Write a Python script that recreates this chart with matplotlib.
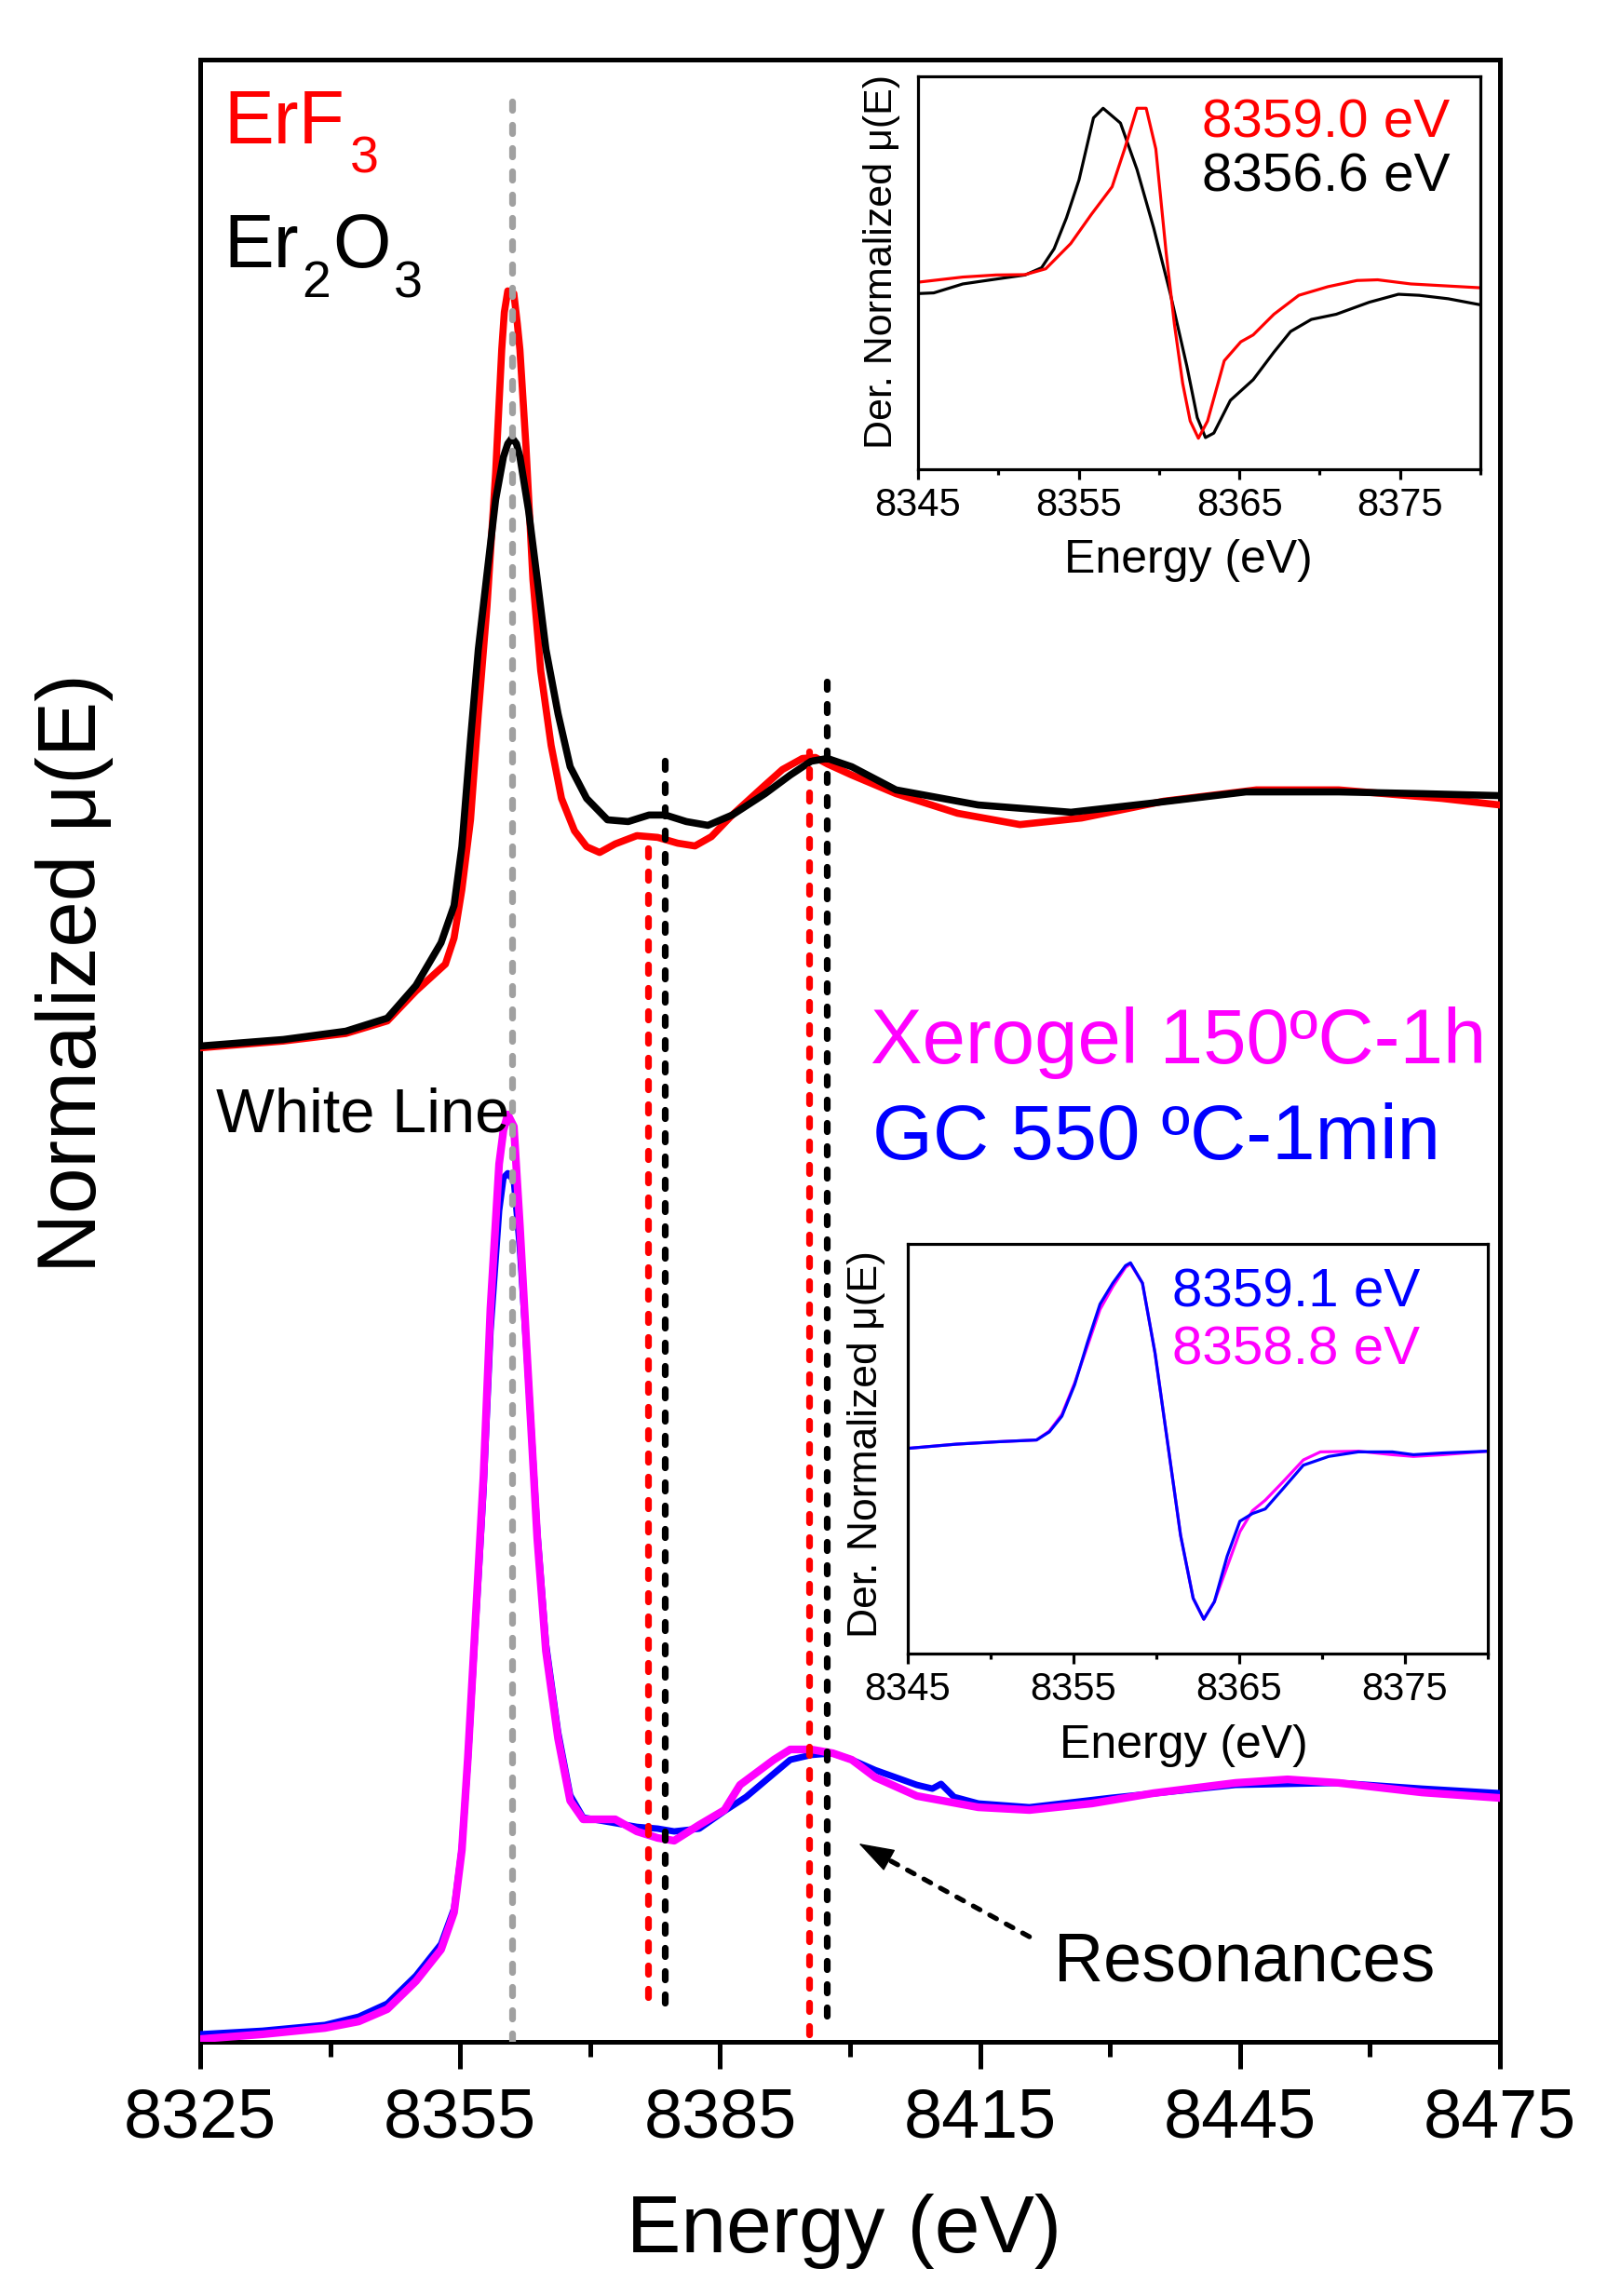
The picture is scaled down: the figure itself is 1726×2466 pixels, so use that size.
import matplotlib
matplotlib.use("Agg")
import matplotlib.pyplot as plt
from matplotlib.ticker import MultipleLocator

plt.rcParams['font.family'] = ['Liberation Sans', 'DejaVu Sans']
plt.rcParams['lines.scale_dashes'] = False

# ---------------- data ----------------
# Top spectra (normalized mu, pre-edge = 0), plotted with an offset
OFFSET_TOP = 3.95
E_er2o3 = [8325, 8334.6, 8341.8, 8346.6, 8349.9, 8352.8, 8354.3, 8355.2, 8356.2, 8357.1,
           8358.1, 8359.1, 8360.0, 8360.5, 8361.0, 8361.5, 8361.9, 8362.9, 8363.9, 8364.9,
           8366.3, 8367.7, 8369.6, 8372.0, 8374.4, 8376.8, 8378.7, 8381.1, 8383.6, 8386.4,
           8390.2, 8393.1, 8395.5, 8397.4, 8400.2, 8405.3, 8414.8, 8425.5, 8435.0, 8445.7,
           8456.4, 8466.0, 8475]
mu_er2o3 = [0.000, 0.026, 0.059, 0.111, 0.241, 0.411, 0.559, 0.793, 1.219, 1.578,
            1.878, 2.174, 2.344, 2.396, 2.419, 2.396, 2.344, 2.130, 1.856, 1.578,
            1.322, 1.111, 0.985, 0.900, 0.893, 0.919, 0.919, 0.893, 0.878, 0.919,
            1.004, 1.078, 1.133, 1.144, 1.111, 1.019, 0.959, 0.930, 0.967, 1.011,
            1.011, 1.004, 0.996]

E_erf3 = [8325, 8334.6, 8341.8, 8346.6, 8349.9, 8353.3, 8354.3, 8355.2, 8356.2, 8357.1,
          8358.1, 8359.1, 8359.8, 8360.1, 8360.5, 8361.2, 8361.6, 8361.9, 8362.6, 8363.4,
          8364.3, 8365.5, 8366.7, 8368.2, 8369.6, 8371.1, 8372.9, 8375.4, 8377.8, 8380.1,
          8382.1, 8384.0, 8386.4, 8389.8, 8392.2, 8394.5, 8396.0, 8397.4, 8400.2, 8405.3,
          8412.4, 8419.6, 8426.7, 8436.2, 8446.9, 8456.4, 8468.3, 8475]
mu_erf3 = [-0.007, 0.020, 0.050, 0.100, 0.219, 0.326, 0.430, 0.622, 0.900, 1.322,
           1.748, 2.281, 2.770, 2.919, 3.004, 2.993, 2.874, 2.770, 2.385, 1.856,
           1.493, 1.196, 0.985, 0.856, 0.793, 0.770, 0.804, 0.837, 0.830, 0.807,
           0.796, 0.833, 0.919, 1.026, 1.100, 1.144, 1.148, 1.122, 1.078, 1.004,
           0.926, 0.881, 0.907, 0.974, 1.019, 1.019, 0.985, 0.959]

# Bottom spectra
E_xero = [8325, 8332.2, 8339.4, 8343.3, 8346.6, 8349.9, 8352.8, 8354.3, 8355.2, 8355.9,
          8356.7, 8357.7, 8358.5, 8359.5, 8360.0, 8360.5, 8361.2, 8361.9, 8362.9, 8363.9,
          8364.9, 8366.3, 8367.7, 8369.2, 8372.9, 8375.4, 8377.8, 8379.7, 8382.6, 8385.5,
          8387.3, 8391.2, 8393.1, 8395.5, 8398.0, 8400.2, 8402.9, 8407.7, 8414.8, 8420.7,
          8427.9, 8435.0, 8444.5, 8450.5, 8456.4, 8466.0, 8475]
mu_xero = [0.000, 0.019, 0.044, 0.070, 0.119, 0.230, 0.356, 0.504, 0.752, 1.122,
           1.619, 2.241, 2.907, 3.481, 3.615, 3.678, 3.630, 3.233, 2.611, 1.993,
           1.544, 1.196, 0.948, 0.874, 0.874, 0.826, 0.800, 0.789, 0.852, 0.911,
           1.011, 1.111, 1.152, 1.152, 1.137, 1.111, 1.041, 0.967, 0.922, 0.911,
           0.937, 0.978, 1.019, 1.033, 1.019, 0.981, 0.959]

E_gc = [8325, 8332.2, 8339.4, 8343.3, 8346.6, 8349.9, 8352.8, 8354.3, 8355.2, 8355.9,
        8356.7, 8357.7, 8358.5, 8359.5, 8360.0, 8360.5, 8361.2, 8361.9, 8362.9, 8363.9,
        8364.9, 8366.3, 8367.7, 8369.2, 8372.9, 8375.4, 8377.8, 8379.7, 8382.6, 8385.5,
        8388.0, 8391.2, 8393.1, 8395.5, 8398.0, 8400.2, 8402.9, 8407.7, 8409.5, 8410.5,
        8412.0, 8414.8, 8420.7, 8430.0, 8444.5, 8456.4, 8466.0, 8475]
mu_gc = [0.019, 0.033, 0.056, 0.089, 0.141, 0.252, 0.378, 0.519, 0.759, 1.111,
         1.593, 2.185, 2.815, 3.296, 3.426, 3.444, 3.415, 3.148, 2.611, 2.019,
         1.574, 1.222, 0.970, 0.881, 0.859, 0.844, 0.837, 0.826, 0.837, 0.907,
         0.963, 1.056, 1.111, 1.130, 1.137, 1.111, 1.070, 1.011, 0.996, 1.015,
         0.963, 0.937, 0.922, 0.959, 1.011, 1.019, 0.996, 0.978]

# Vertical guide lines: energy, y-from, y-to, colour
vl_E = [8361.0, 8376.7, 8378.6, 8395.3, 8397.3]
vl_ymin = [-0.011, 0.167, 0.144, 0.019, 0.093]
vl_ymax = [7.726, 4.781, 5.144, 5.122, 5.400]
vl_col = ['#A0A0A0', '#FF0000', '#000000', '#FF0000', '#000000']

# Resonances arrow (tail -> tip)
arrow_tail = (8420.7, 0.407)
arrow_tip = (8401.0, 0.778)

# Inset 1: derivatives
dE_er2o3 = [8345, 8345.98, 8347.79, 8349.85, 8351.66, 8352.69, 8353.47, 8354.24, 8355.02, 8355.92,
            8356.52, 8357.6, 8358.63, 8359.67, 8360.7, 8361.73, 8362.38, 8362.89, 8363.41, 8364.44,
            8365.86, 8367.15, 8368.19, 8369.48, 8371.03, 8373.09, 8374.9, 8376.19, 8378.0, 8379.93]
d_er2o3 = [-0.06, -0.056, -0.004, 0.024, 0.048, 0.09, 0.2, 0.38, 0.6, 0.96,
           1.016, 0.93, 0.66, 0.32, -0.06, -0.48, -0.78, -0.896, -0.87, -0.68,
           -0.56, -0.4, -0.28, -0.21, -0.18, -0.11, -0.064, -0.07, -0.09, -0.124]
dE_erf3 = [8345, 8347.79, 8349.85, 8351.66, 8352.95, 8354.5, 8355.79, 8357.08, 8357.86, 8358.63,
           8359.2, 8359.8, 8360.44, 8360.96, 8361.47, 8361.94, 8362.45, 8363.02, 8364.06, 8365.09,
           8365.86, 8367.15, 8368.7, 8370.51, 8372.32, 8373.61, 8375.67, 8379.93]
d_erf3 = [0.006, 0.036, 0.048, 0.05, 0.084, 0.23, 0.4, 0.56, 0.78, 1.016,
          1.016, 0.78, 0.18, -0.24, -0.58, -0.8, -0.9, -0.8, -0.45, -0.34,
          -0.3, -0.18, -0.07, -0.02, 0.016, 0.02, -0.004, -0.026]

# Inset 2: derivatives
dE_gc = [8345, 8347.91, 8350.47, 8352.77, 8353.54, 8354.3, 8355.07, 8355.84, 8356.6, 8357.37,
         8358.14, 8358.44, 8359.16, 8359.92, 8360.69, 8361.46, 8362.22, 8362.86, 8363.5, 8364.27,
         8365.04, 8365.8, 8366.57, 8367.59, 8368.87, 8370.4, 8372.19, 8374.24, 8375.51, 8377.3, 8380.0]
d_gc = [-0.004, 0.02, 0.034, 0.044, 0.09, 0.18, 0.36, 0.6, 0.82, 0.94,
        1.04, 1.056, 0.94, 0.54, 0.02, -0.5, -0.86, -0.98, -0.88, -0.62,
        -0.42, -0.376, -0.35, -0.24, -0.1, -0.05, -0.024, -0.024, -0.04, -0.03, -0.02]
dE_xero = [8345, 8347.91, 8350.47, 8352.77, 8353.54, 8354.3, 8355.07, 8355.84, 8356.6, 8357.37,
           8358.14, 8358.44, 8359.16, 8359.92, 8360.69, 8361.46, 8362.22, 8362.86, 8363.5, 8364.27,
           8365.04, 8365.8, 8366.57, 8367.59, 8368.87, 8369.9, 8372.19, 8374.24, 8375.51, 8377.3, 8380.0]
d_xero = [-0.004, 0.02, 0.034, 0.044, 0.095, 0.19, 0.37, 0.58, 0.79, 0.92,
          1.03, 1.05, 0.94, 0.54, 0.02, -0.5, -0.86, -0.98, -0.88, -0.68,
          -0.48, -0.36, -0.30, -0.20, -0.07, -0.024, -0.02, -0.04, -0.05, -0.04, -0.02]

main_ticks = [8325, 8355, 8385, 8415, 8445, 8475]
inset_ticks = [8345, 8355, 8365, 8375]

# ---------------- figure ----------------
W, H = 1726, 2466
fig = plt.figure(figsize=(W / 100, H / 100), dpi=100)


def fx(x):
    return x / W


def fy(y):
    return 1 - y / H


ax = fig.add_axes([fx(215), fy(2193), (1611 - 215) / W, (2193 - 64) / H])
ax.set_xlim(8325, 8475)
ax.set_ylim(-0.011, 7.874)
for s in ax.spines.values():
    s.set_linewidth(3.6)
ax.set_xticks(main_ticks)
ax.xaxis.set_minor_locator(MultipleLocator(15))
ax.tick_params(axis='x', which='major', length=21, width=3.6, direction='out',
               labelsize=53, pad=14)
ax.tick_params(axis='x', which='minor', length=11.5, width=3.6, direction='out')
ax.set_yticks([])

# spectra
ax.plot(E_gc, mu_gc, color='#0000FF', lw=5.0, zorder=3, solid_joinstyle='round')
ax.plot(E_xero, mu_xero, color='#FF00FF', lw=6.0, zorder=4, solid_joinstyle='round')
ax.plot(E_erf3, [v + OFFSET_TOP for v in mu_erf3], color='#FF0000', lw=5.5, zorder=3,
        solid_joinstyle='round')
ax.plot(E_er2o3, [v + OFFSET_TOP for v in mu_er2o3], color='#000000', lw=5.5, zorder=4,
        solid_joinstyle='round')

# dashed guide lines
for e, y0, y1, c in zip(vl_E, vl_ymin, vl_ymax, vl_col):
    ax.plot([e, e], [y0, y1], color=c, lw=5.2, dashes=(6.5, 11.5),
            dash_capstyle='round', zorder=5)

# resonances arrow: dashed shaft + solid head
ax.annotate('', xy=arrow_tip, xytext=arrow_tail,
            arrowprops=dict(arrowstyle='-', color='k', lw=3.8,
                            linestyle=(0, (6.0, 8.5)), shrinkA=0, shrinkB=22,
                            capstyle='round'), zorder=6)
head_from = (arrow_tip[0] + 0.2 * (arrow_tail[0] - arrow_tip[0]),
             arrow_tip[1] + 0.2 * (arrow_tail[1] - arrow_tip[1]))
ax.annotate('', xy=arrow_tip, xytext=head_from,
            arrowprops=dict(arrowstyle='-|>,head_length=1.25,head_width=0.42',
                            mutation_scale=20, color='k', lw=1.0,
                            shrinkA=10, shrinkB=0), zorder=6)

# ---------------- texts ----------------
fig.text(fx(240), fy(154), 'ErF', color='#FF0000', fontsize=58, va='baseline', ha='left')
fig.text(fx(376), fy(185), '3', color='#FF0000', fontsize=40, va='baseline', ha='left')
fig.text(fx(240), fy(287), 'Er', color='k', fontsize=58, va='baseline', ha='left')
fig.text(fx(324), fy(319), '2', color='k', fontsize=40, va='baseline', ha='left')
fig.text(fx(357), fy(287), 'O', color='k', fontsize=58, va='baseline', ha='left')
fig.text(fx(423), fy(319), '3', color='k', fontsize=40, va='baseline', ha='left')
fig.text(fx(232), fy(1215), 'White Line', color='k', fontsize=48, va='baseline', ha='left')
fig.text(fx(935), fy(1142), 'Xerogel 150ºC-1h', color='#FF00FF', fontsize=60,
         va='baseline', ha='left')
fig.text(fx(937), fy(1245), 'GC 550 ºC-1min', color='#0000FF', fontsize=60,
         va='baseline', ha='left')
fig.text(fx(1132), fy(2128), 'Resonances', color='k', fontsize=53, va='baseline', ha='left')

fig.text(fx(906), fy(2419), 'Energy (eV)', fontsize=63, ha='center', va='baseline')
fig.text(fx(80), fy(1045), 'Normalized μ(E)', fontsize=64, rotation=90,
         ha='center', va='center')


# ---------------- insets ----------------
def style_inset(a):
    a.set_xlim(8345, 8380)
    for s in a.spines.values():
        s.set_linewidth(2.3)
    a.set_xticks(inset_ticks)
    a.xaxis.set_minor_locator(MultipleLocator(5))
    a.tick_params(axis='x', which='major', length=8, width=2.3, direction='out',
                  labelsize=30, pad=6)
    a.tick_params(axis='x', which='minor', length=4.5, width=2.3, direction='out')
    a.set_yticks([])


ax1 = fig.add_axes([fx(986), fy(504), (1590 - 986) / W, (504 - 81.5) / H])
style_inset(ax1)
ax1.set_ylim(-1.08, 1.204)
ax1.plot(dE_er2o3, d_er2o3, color='k', lw=2.3)
ax1.plot(dE_erf3, d_erf3, color='#FF0000', lw=2.3)
fig.text(fx(1291), fy(147), '8359.0 eV', color='#FF0000', fontsize=42, va='baseline', ha='left')
fig.text(fx(1291), fy(206), '8356.6 eV', color='k', fontsize=42, va='baseline', ha='left')
fig.text(fx(1276), fy(615), 'Energy (eV)', fontsize=36, ha='center', va='baseline')
fig.text(fx(947), fy(281), 'Der. Normalized μ(E)', fontsize=31, rotation=90,
         ha='center', va='center')

ax2 = fig.add_axes([fx(975), fy(1776), (1598 - 975) / W, (1776 - 1336) / H])
style_inset(ax2)
ax2.set_ylim(-1.176, 1.164)
ax2.plot(dE_xero, d_xero, color='#FF00FF', lw=2.3)
ax2.plot(dE_gc, d_gc, color='#0000FF', lw=2.3)
fig.text(fx(1259), fy(1404), '8359.1 eV', color='#0000FF', fontsize=42, va='baseline', ha='left')
fig.text(fx(1259), fy(1466), '8358.8 eV', color='#FF00FF', fontsize=42, va='baseline', ha='left')
fig.text(fx(1271), fy(1888), 'Energy (eV)', fontsize=36, ha='center', va='baseline')
fig.text(fx(930), fy(1551), 'Der. Normalized μ(E)', fontsize=32, rotation=90,
         ha='center', va='center')

fig.savefig('out.png', dpi=100)
